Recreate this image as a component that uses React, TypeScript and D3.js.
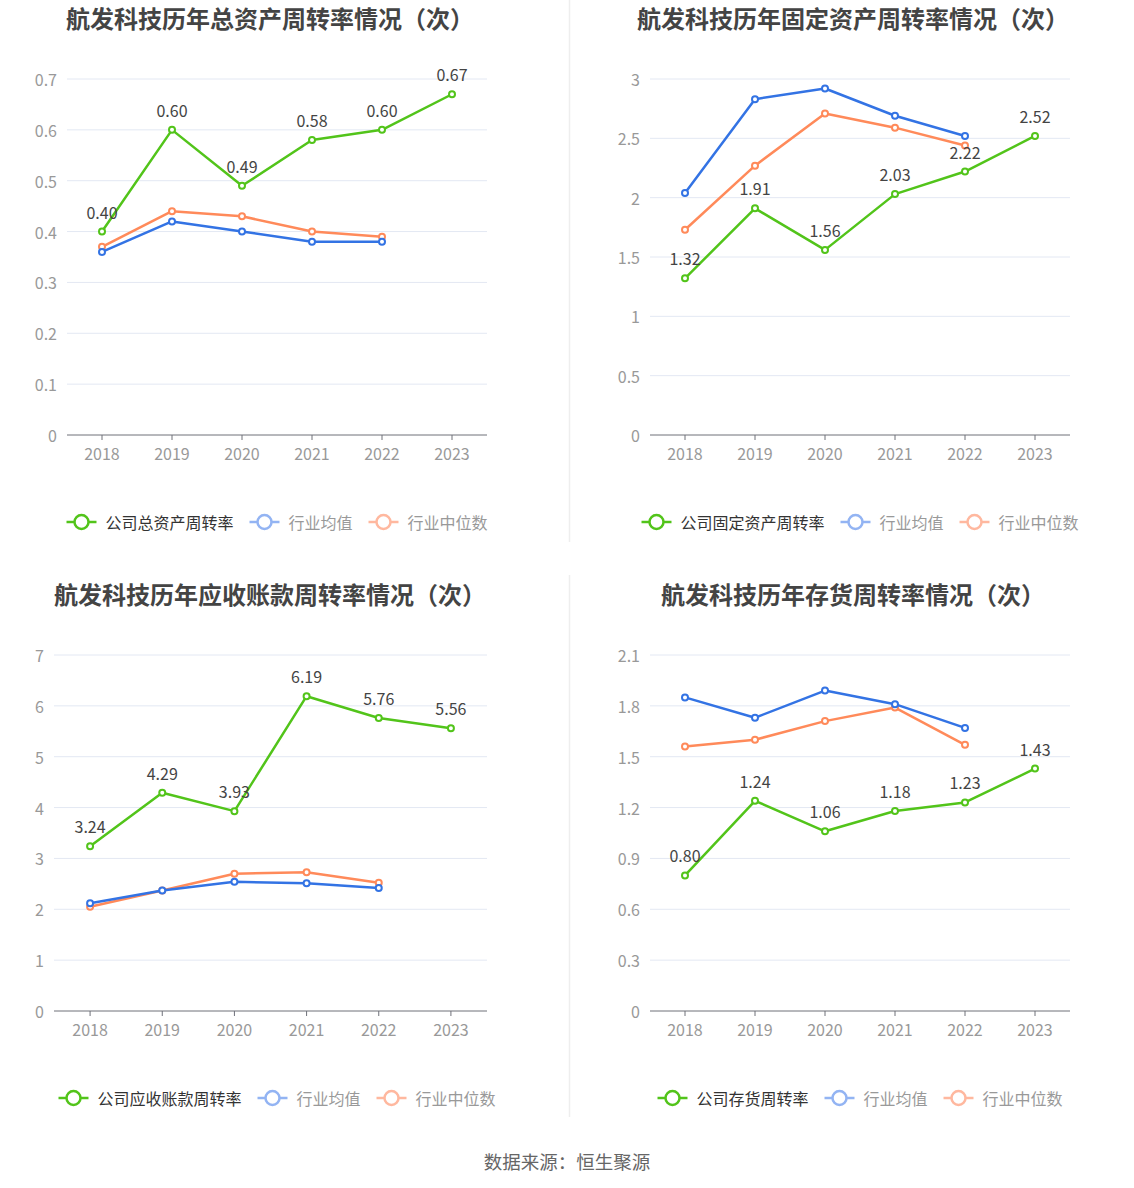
import React from 'react';
import * as d3 from 'd3';

const years = ['2018', '2019', '2020', '2021', '2022', '2023'];
const avgYears = ['2018', '2019', '2020', '2021', '2022'];

const assetCompany = [0.40, 0.60, 0.49, 0.58, 0.60, 0.67];
const assetAvg = [0.36, 0.42, 0.40, 0.38, 0.38];
const assetMedian = [0.37, 0.44, 0.43, 0.40, 0.39];
const assetTicks = [0, 0.1, 0.2, 0.3, 0.4, 0.5, 0.6, 0.7];

const fixedCompany = [1.32, 1.91, 1.56, 2.03, 2.22, 2.52];
const fixedAvg = [2.04, 2.83, 2.92, 2.69, 2.52];
const fixedMedian = [1.73, 2.27, 2.71, 2.59, 2.44];
const fixedTicks = [0, 0.5, 1, 1.5, 2, 2.5, 3];

const recvCompany = [3.24, 4.29, 3.93, 6.19, 5.76, 5.56];
const recvAvg = [2.12, 2.37, 2.54, 2.51, 2.42];
const recvMedian = [2.05, 2.37, 2.70, 2.73, 2.52];
const recvTicks = [0, 1, 2, 3, 4, 5, 6, 7];

const invCompany = [0.80, 1.24, 1.06, 1.18, 1.23, 1.43];
const invAvg = [1.85, 1.73, 1.89, 1.81, 1.67];
const invMedian = [1.56, 1.60, 1.71, 1.79, 1.57];
const invTicks = [0, 0.3, 0.6, 0.9, 1.2, 1.5, 1.8, 2.1];

const titles = [
  '航发科技历年总资产周转率情况（次）',
  '航发科技历年固定资产周转率情况（次）',
  '航发科技历年应收账款周转率情况（次）',
  '航发科技历年存货周转率情况（次）',
];
const companyNames = ['公司总资产周转率', '公司固定资产周转率', '公司应收账款周转率', '公司存货周转率'];
const avgName = '行业均值';
const medianName = '行业中位数';
const footer = '数据来源：恒生聚源';

const GREEN = '#52c41a';
const BLUE = '#3373e4';
const ORANGE = '#ff8a5a';
const BLUE_L = '#93b4f3';
const ORANGE_L = '#ffb89f';
const FONT = '"Noto Sans CJK SC", "Noto Sans", sans-serif';

type PanelCfg = {
  title: string;
  name: string;
  company: number[];
  avg: number[];
  median: number[];
  ticks: number[];
  ox: number;
  oy: number;
  left: number;
};

const panels: PanelCfg[] = [
  { title: titles[0], name: companyNames[0], company: assetCompany, avg: assetAvg, median: assetMedian, ticks: assetTicks, ox: 0, oy: 0, left: 67 },
  { title: titles[1], name: companyNames[1], company: fixedCompany, avg: fixedAvg, median: fixedMedian, ticks: fixedTicks, ox: 583, oy: 0, left: 67 },
  { title: titles[2], name: companyNames[2], company: recvCompany, avg: recvAvg, median: recvMedian, ticks: recvTicks, ox: 0, oy: 576, left: 54 },
  { title: titles[3], name: companyNames[3], company: invCompany, avg: invAvg, median: invMedian, ticks: invTicks, ox: 583, oy: 576, left: 67 },
];

function Panel({ cfg }: { cfg: PanelCfg }) {
  const right = 487;
  const top = 79;
  const bottom = 435;
  const x = d3.scalePoint<string>().domain(years).range([cfg.left, right]).padding(0.5);
  const yMax = cfg.ticks[cfg.ticks.length - 1];
  const y = d3.scaleLinear().domain([0, yMax]).range([bottom, top]);
  const line = d3.line<[string, number]>().x((d) => x(d[0]) as number).y((d) => y(d[1]));

  const series = [
    { data: cfg.median.map((v, i) => [avgYears[i], v] as [string, number]), color: ORANGE },
    { data: cfg.avg.map((v, i) => [avgYears[i], v] as [string, number]), color: BLUE },
    { data: cfg.company.map((v, i) => [years[i], v] as [string, number]), color: GREEN },
  ];

  const items = [
    { name: cfg.name, color: GREEN, text: '#333' },
    { name: avgName, color: BLUE_L, text: '#999' },
    { name: medianName, color: ORANGE_L, text: '#999' },
  ];
  const fs = 16;
  const markerW = 30;
  const gapText = 9;
  const gapItem = 16;
  const widths = items.map((it) => markerW + gapText + it.name.length * fs);
  const total = widths.reduce((a, b) => a + b, 0) + gapItem * (items.length - 1);
  let lx = 277 - total / 2;
  const ly = bottom + 87;

  return (
    <g transform={`translate(${cfg.ox},${cfg.oy})`}>
      <text x={270} y={17} textAnchor="middle" dominantBaseline="central" fontSize={24} fontWeight="bold" fill="#444" fontFamily={FONT}>
        {cfg.title}
      </text>
      {cfg.ticks.map((t, i) => (
        <g key={i}>
          {t !== 0 && <line x1={cfg.left} x2={right} y1={y(t)} y2={y(t)} stroke="#e3e8f3" strokeWidth={1} />}
          <text x={cfg.left - 10} y={y(t)} textAnchor="end" dominantBaseline="central" fontSize={16} fill="#999" fontFamily={FONT}>
            {String(t)}
          </text>
        </g>
      ))}
      <line x1={cfg.left} x2={right} y1={bottom} y2={bottom} stroke="#6e7079" strokeWidth={1} />
      {years.map((yr) => (
        <g key={yr}>
          <line x1={x(yr)} x2={x(yr)} y1={bottom} y2={bottom + 5} stroke="#6e7079" strokeWidth={1} />
          <text x={x(yr)} y={bottom + 18} textAnchor="middle" dominantBaseline="central" fontSize={16} fill="#999" fontFamily={FONT}>
            {yr}
          </text>
        </g>
      ))}
      {series.map((s, si) => (
        <g key={si}>
          <path d={line(s.data) || ''} fill="none" stroke={s.color} strokeWidth={2.5} strokeLinejoin="round" />
          {s.data.map((d, i) => (
            <circle key={i} cx={x(d[0])} cy={y(d[1])} r={3} fill="#fff" stroke={s.color} strokeWidth={2} />
          ))}
        </g>
      ))}
      {cfg.company.map((v, i) => (
        <text key={i} x={x(years[i])} y={y(v) - 20} textAnchor="middle" dominantBaseline="central" fontSize={16} fill="#444" fontFamily={FONT}>
          {v.toFixed(2)}
        </text>
      ))}
      {items.map((it, i) => {
        const sx = lx;
        lx += widths[i] + gapItem;
        return (
          <g key={i}>
            <line x1={sx} x2={sx + markerW} y1={ly} y2={ly} stroke={it.color} strokeWidth={2.5} />
            <circle cx={sx + markerW / 2} cy={ly} r={7} fill="#fff" stroke={it.color} strokeWidth={2.5} />
            <text x={sx + markerW + gapText} y={ly} dominantBaseline="central" fontSize={fs} fill={it.text} fontFamily={FONT}>
              {it.name}
            </text>
          </g>
        );
      })}
    </g>
  );
}

export default function App() {
  return (
    <svg width={1134} height={1188} style={{ position: 'absolute', left: 0, top: 0, background: '#fff' }}>
      <rect x={0} y={0} width={1134} height={1188} fill="#fff" />
      <line x1={569.5} x2={569.5} y1={0} y2={542} stroke="#eeeeee" strokeWidth={1.5} />
      <line x1={569.5} x2={569.5} y1={575} y2={1117} stroke="#eeeeee" strokeWidth={1.5} />
      {panels.map((p, i) => (
        <Panel key={i} cfg={p} />
      ))}
      <text x={567} y={1161} textAnchor="middle" dominantBaseline="central" fontSize={18.5} fill="#666" fontFamily={FONT}>
        {footer}
      </text>
    </svg>
  );
}
